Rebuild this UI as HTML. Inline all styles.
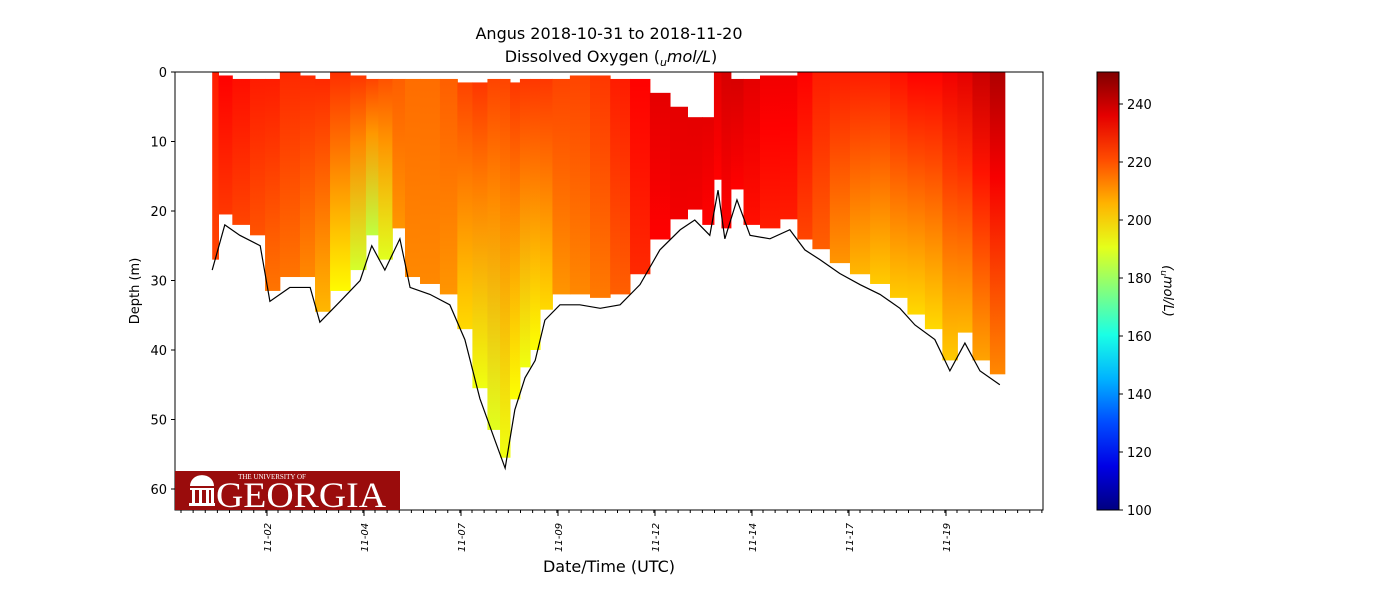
<!DOCTYPE html>
<html><head><meta charset="utf-8"><style>
body{margin:0;background:#fff}
svg text{font-family:"DejaVu Sans","Liberation Sans",sans-serif}
</style></head><body>
<svg id="chart" width="1400" height="600" xmlns="http://www.w3.org/2000/svg">
<defs id="defs"></defs>
<rect width="1400" height="600" fill="#fff"/>
<text x="609" y="39" text-anchor="middle" font-size="16">Angus 2018-10-31 to 2018-11-20</text>
<text x="611" y="62" text-anchor="middle" font-size="16">Dissolved Oxygen (<tspan font-style="italic" font-size="11" dy="4">u</tspan><tspan font-style="italic" dy="-4">mol/L</tspan>)</text>
<g id="plot"></g>
<text transform="translate(139,291) rotate(-90)" text-anchor="middle" font-size="13">Depth (m)</text>
<text x="609" y="572" text-anchor="middle" font-size="16">Date/Time (UTC)</text>
<g id="cbar"></g>
<text transform="translate(1164,291) rotate(90)" text-anchor="middle" font-size="13" font-style="italic">(<tspan font-size="9" dy="3">u</tspan><tspan dy="-3">mol/L)</tspan></text>
<g>
<rect x="175" y="471" width="225" height="39" fill="#9a0c0c"/>
<text x="272" y="479" text-anchor="middle" font-size="7" fill="#fff" style="font-family:'Liberation Serif',serif">THE UNIVERSITY OF</text>
<text x="216" y="507" font-size="36" fill="#fff" textLength="170" lengthAdjust="spacingAndGlyphs" style="font-family:'Liberation Serif',serif">GEORGIA</text>
<path d="M190 486 a11 10 0 0 1 24 0 z M190 488h24v2h-24z M192 490h3v13h-3z M199 490h3v13h-3z M206 490h3v13h-3z M211 490h3v13h-3z M189 503h26v3h-26z" fill="#fff"/>
</g>
</svg>
<script>
const NS="http://www.w3.org/2000/svg";
// data arrays
const days=[0.87,1.13,1.44,1.86,2.06,2.47,2.89,3.09,3.51,3.92,4.16,4.43,4.74,4.95,5.36,5.77,6.08,6.39,6.70,6.91,7.11,7.32,7.53,7.73,8.04,8.45,8.87,9.28,9.69,10.10,10.52,10.82,11.13,11.30,11.44,11.69,11.96,12.37,12.78,13.09,13.40,13.81,14.23,14.64,15.05,15.36,15.77,16.08,16.39,16.70,17.11];
const bottomDepth=[28.5,22,23.5,25,33,31,31,36,33,30,25,28.5,24,31,32,33.5,38.5,47,53,57,48.6,44,41.5,35.7,33.5,33.5,34,33.5,30.6,25.6,22.7,21.3,23.5,17,24,18.4,23.5,24,22.7,25.6,27,29,30.6,32,34,36.4,38.5,43,39,43,45];
const topDepth=[0,0.5,1,1,1,0,0.5,1,0,0.5,1,1,1,1,1,1,1.5,1.5,1,1,1.5,1,1,1,1,0.5,0.5,1,1,3,5,6.5,6.5,0,0,1,1,0.5,0.5,0,0,0,0,0,0,0,0,0,0,0,0];
const topValue=[228,232,230,228,228,226,226,226,225,224,222,220,218,216,216,218,222,224,222,222,224,224,224,224,222,222,224,228,232,236,236,236,236,236,238,238,236,234,234,232,228,228,228,228,230,232,232,234,236,240,244];
const bottomValue=[222,224,222,220,215,215,212,205,195,188,185,190,210,212,212,210,200,192,190,192,194,192,194,200,210,212,214,218,226,232,234,234,232,232,232,232,230,228,228,222,218,210,205,202,202,200,200,202,205,208,212];
const tickDays=[2,4,6,8,10,12,14,16];
const tickLabels=["11-02","11-04","11-07","11-09","11-12","11-14","11-17","11-19"];
const cbTicks=[100,120,140,160,180,200,220,240];
const yTicks=[0,10,20,30,40,50,60];

const X0=175,X1=1043,Y0=72,Y1=510;
const xs=d=>267+(d-2)*48.5;
const ys=m=>72+m*6.95;
function jet(v){let t=(v-100)/151;t=Math.max(0,Math.min(1,t));
 const c=x=>Math.round(255*Math.max(0,Math.min(1,1.5-Math.abs(4*t-x))));
 return `rgb(${c(3)},${c(2)},${c(1)})`;}
const plot=document.getElementById('plot'),defs=document.getElementById('defs');
function el(tag,attrs,parent){const e=document.createElementNS(NS,tag);for(const k in attrs)e.setAttribute(k,attrs[k]);parent.appendChild(e);return e;}
for(let i=0;i<days.length;i++){
 const xa=i==0?xs(days[0]):(xs(days[i-1])+xs(days[i]))/2;
 const xb=i==days.length-1?xs(days[i])+5:(xs(days[i])+xs(days[i+1]))/2;
 const yt=ys(topDepth[i]),yb=ys(bottomDepth[i]-1.5);
 const g=el('linearGradient',{id:'g'+i,gradientUnits:'userSpaceOnUse',x1:0,y1:yt,x2:0,y2:yb},defs);
 el('stop',{offset:0,'stop-color':jet(topValue[i])},g);
 el('stop',{offset:0.35,'stop-color':jet((2*topValue[i]+bottomValue[i])/3)},g);
 el('stop',{offset:1,'stop-color':jet(bottomValue[i])},g);
 const r=el('rect',{x:xa,y:yt,width:xb-xa+0.5,height:Math.max(0,yb-yt),fill:`url(#g${i})`},plot);
 
 
}
const pts=days.map((d,i)=>xs(d)+','+ys(bottomDepth[i])).join(' ');
const pl=el('polyline',{points:pts,fill:'none',stroke:'#000','stroke-width':1.2},plot);


el('rect',{x:X0,y:Y0,width:X1-X0,height:Y1-Y0,fill:'none',stroke:'#000','stroke-width':1},plot);
yTicks.forEach(t=>{const y=ys(t);el('line',{x1:X0-4,x2:X0,y1:y,y2:y,stroke:'#000'},plot);
 const tx=el('text',{x:X0-8,y:y+5,'text-anchor':'end','font-size':13},plot);tx.textContent=t;
 });
for(let x=X0+6;x<X1;x+=12.125){el('line',{x1:x,x2:x,y1:Y1,y2:Y1+3,stroke:'#000'},plot);}
tickDays.forEach((d,i)=>{const x=xs(d);el('line',{x1:x,x2:x,y1:Y1,y2:Y1+6,stroke:'#000'},plot);
 const tx=el('text',{transform:`translate(${x+4},${Y1+42}) rotate(-90)`,'font-size':10,'font-style':'italic'},plot);tx.textContent=tickLabels[i];
 });
const cb=document.getElementById('cbar');
const cg=el('linearGradient',{id:'cbg',x1:0,y1:1,x2:0,y2:0},defs);
for(let k=0;k<=10;k++){el('stop',{offset:k/10,'stop-color':jet(100+15.1*k)},cg);}
el('rect',{x:1097,y:72,width:22,height:438,fill:'url(#cbg)',stroke:'#000','stroke-width':1},cb);
cbTicks.forEach(v=>{const y=510-(v-100)*2.9;el('line',{x1:1119,x2:1123,y1:y,y2:y,stroke:'#000'},cb);
 const tx=el('text',{x:1127,y:y+5,'font-size':13},cb);tx.textContent=v;
 });
</script>
</body></html>
